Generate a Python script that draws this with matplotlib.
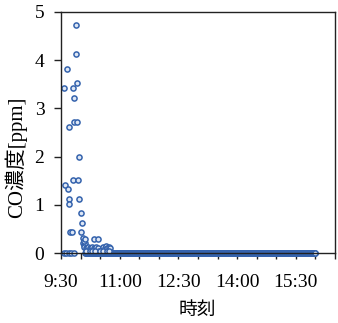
import numpy as np
import matplotlib
matplotlib.use("Agg")
import matplotlib.pyplot as plt

# CO concentration readings, time given in minutes after 9:30
peak_minutes = [5, 6, 9, 10.3, 11.8, 11.8, 12.7, 13.3, 17.3, 18.8, 18.8, 20.4, 20.4,
                22.5, 22.5, 25, 25, 26.5, 27, 28, 30.6, 30.6, 32.6, 33.7, 35.2,
                36.7, 50.5, 56.2]
peak_ppm = [3.42, 1.41, 3.82, 1.33, 2.61, 1.11, 1.02, 0.43, 0.43, 3.42, 1.51, 3.22, 2.72,
            4.73, 4.13, 3.53, 2.72, 1.51, 2.00, 1.11, 0.84, 0.43, 0.63, 0.31, 0.25,
            0.30, 0.30, 0.30]

low_minutes = [34, 35.5, 37, 36, 38, 40, 42, 44, 46, 48, 50, 52, 54, 56, 58,
               65, 67, 69, 71, 73, 75, 39, 44, 48, 52, 60, 64, 70, 74]
low_ppm = [0.20, 0.17, 0.20, 0.12, 0.10, 0.10, 0.13, 0.10, 0.10, 0.13, 0.10, 0.10,
           0.13, 0.10, 0.05, 0.13, 0.10, 0.14, 0.10, 0.13, 0.10, 0.05, 0.05, 0.05,
           0.05, 0.05, 0.05, 0.05, 0.05]

zero_minutes = [5, 8, 12, 16, 20]
zero_ppm = [0.0, 0.0, 0.0, 0.0, 0.0]

# readings stay at 0 ppm from 10:07 to 16:00 (1-minute logging interval)
flat_start, flat_end, log_step = 37, 390, 1
flat_minutes = np.arange(flat_start, flat_end + 1, log_step)
flat_ppm = np.zeros_like(flat_minutes, dtype=float)

tick_labels = ["9:30", "11:00", "12:30", "14:00", "15:30"]
y_ticks = [0, 1, 2, 3, 4, 5]

start_hour = 9.5
to_hours = lambda m: start_hour + np.asarray(m, dtype=float) / 60.0

serif = ["Liberation Serif", "DejaVu Serif"]
cjk = ["Liberation Serif", "Noto Sans CJK JP"]

fig = plt.figure(figsize=(3.38, 3.23), dpi=100)
ax = fig.add_axes([61 / 338, 70 / 323, 274 / 338, 241 / 323])

mk = dict(ls="none", marker="o", ms=3.7, mfc="#dfe8f5", mec="#3563ad", mew=1.1)
ax.plot(to_hours(flat_minutes), flat_ppm, clip_on=False, **mk)
ax.plot(to_hours(zero_minutes), zero_ppm, clip_on=False, **mk)
ax.plot(to_hours(low_minutes), low_ppm, **mk)
ax.plot(to_hours(peak_minutes), peak_ppm, **mk)

ax.set_xlim(9.5, 16.5)
ax.set_ylim(0, 5)
ax.set_xticks(np.arange(9.5, 16.51, 0.5))
ax.set_xticklabels([tick_labels[i // 3] if i % 3 == 0 else "" for i in range(15)],
                   fontfamily=serif, fontsize=14)
ax.set_yticks(y_ticks)
ax.set_yticklabels([str(v) for v in y_ticks], fontfamily=serif, fontsize=14)
ax.tick_params(axis="x", direction="out", length=4, width=1, color="#222222", pad=11)
ax.tick_params(axis="y", direction="out", length=5, width=1, color="#222222", pad=7)

for s in ax.spines.values():
    s.set_linewidth(1.0)
    s.set_color("#222222")

ax.set_xlabel("時刻", fontfamily=cjk, fontsize=13.5)
ax.xaxis.set_label_coords((197 - 61) / 274, -(302 - 253) / 241)
ax.set_ylabel("CO濃度[ppm]", fontfamily=cjk, fontsize=15)
ax.yaxis.set_label_coords(-(61 - 27) / 274, (253 - 157) / 241)

fig.savefig("out.png", dpi=100)
